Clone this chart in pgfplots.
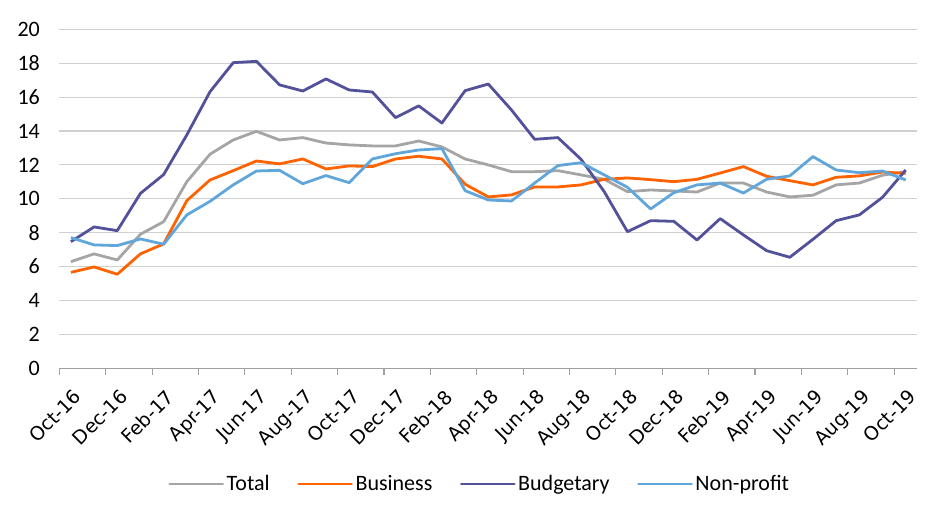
\documentclass[border=0pt]{standalone}
\usepackage{pgfplots}
\pgfplotsset{compat=1.18}
\usepackage{pgfplotstable}
\usepackage{fontspec}
\setmainfont{Carlito}
\newfontfamily\dejavu{DejaVu Sans}
\definecolor{cTotal}{HTML}{A5A5A5}
\definecolor{cBus}{HTML}{FF6200}
\definecolor{cBud}{HTML}{525199}
\definecolor{cNon}{HTML}{60A6DA}
\definecolor{cGrid}{HTML}{D0D0D0}
\definecolor{cAxis}{HTML}{A0A0A0}
\pgfplotstableread{
i Total Business Budgetary Nonprofit
0 6.29 5.66 7.47 7.71
1 6.75 5.98 8.34 7.28
2 6.39 5.55 8.12 7.24
3 7.91 6.75 10.32 7.63
4 8.65 7.34 11.43 7.32
5 11.01 9.89 13.77 9.05
6 12.63 11.11 16.32 9.85
7 13.47 11.66 18.03 10.82
8 13.98 12.23 18.11 11.64
9 13.47 12.06 16.72 11.68
10 13.61 12.35 16.36 10.89
11 13.29 11.76 17.07 11.37
12 13.18 11.94 16.42 10.95
13 13.12 11.90 16.30 12.35
14 13.12 12.35 14.79 12.66
15 13.41 12.51 15.48 12.88
16 13.06 12.35 14.47 12.96
17 12.35 10.86 16.38 10.48
18 12.00 10.11 16.77 9.93
19 11.60 10.23 15.24 9.87
20 11.60 10.70 13.51 10.93
21 11.66 10.70 13.61 11.96
22 11.41 10.82 12.33 12.13
23 11.15 11.15 10.42 11.41
24 10.42 11.23 8.06 10.68
25 10.52 11.13 8.71 9.40
26 10.46 11.01 8.67 10.36
27 10.40 11.15 7.57 10.82
28 10.93 11.52 8.83 10.93
29 10.93 11.90 7.87 10.34
30 10.40 11.33 6.94 11.15
31 10.11 11.07 6.55 11.35
32 10.21 10.82 7.61 12.49
33 10.82 11.27 8.71 11.70
34 10.93 11.35 9.05 11.54
35 11.39 11.58 10.09 11.64
36 11.60 11.50 11.70 11.11
}\data
\begin{document}
\begin{tikzpicture}
\useasboundingbox (0,0) rectangle (952pt,521pt);
\begin{axis}[
  at={(59.3pt,152.7pt)}, anchor=south west,
  scale only axis, width=858pt, height=339pt,
  xmin=-0.5, xmax=36.5, ymin=0, ymax=20,
  axis x line*=bottom, axis y line*=left,
  y axis line style={draw=none},
  x axis line style={draw=cAxis, line width=1.2pt},
  xtick={0,2,...,36},
  xticklabels={Oct-16,Dec-16,Feb-17,Apr-17,Jun-17,Aug-17,Oct-17,Dec-17,Feb-18,Apr-18,Jun-18,Aug-18,Oct-18,Dec-18,Feb-19,Apr-19,Jun-19,Aug-19,Oct-19},
  major x tick style={draw=none},
  minor xtick={-0.5,1.5,...,35.5},
  minor x tick style={draw=cAxis, line width=1.1pt},
  minor tick length=6.7pt,
  tick align=outside,
  ytick={0,2,...,20},
  ytick style={draw=none},
  ymajorgrids,
  grid style={draw=cGrid, line width=1.1pt},
  /pgf/number format/assume math mode=true,
  yticklabel style={font=\fontsize{22}{22}\selectfont, inner sep=0pt, anchor=east, xshift=-15pt},
  xticklabel style={font=\fontsize{19}{19}\dejavu, rotate=45, anchor=north east, inner sep=1pt, xshift=-9pt, yshift=-11pt},
  legend columns=4,
  legend style={at={(rel axis cs:0.4903,-0.3413)}, anchor=center, draw=none, fill=none,
    font=\fontsize{22}{22}\selectfont, inner sep=0pt,
    nodes={inner sep=2.5pt},
    /tikz/every even column/.append style={column sep=25pt}},
  legend image code/.code={\draw[#1, line cap=round] (0pt,0pt) -- (53pt,0pt);},
  every axis plot/.append style={line width=2.8pt, line join=round, no markers},
]
\addplot[cTotal] table[x=i, y=Total] {\data};
\addlegendentry{Total}
\addplot[cBus] table[x=i, y=Business] {\data};
\addlegendentry{Business}
\addplot[cBud] table[x=i, y=Budgetary] {\data};
\addlegendentry{Budgetary}
\addplot[cNon] table[x=i, y=Nonprofit] {\data};
\addlegendentry{Non-profit}
\end{axis}
\end{tikzpicture}
\end{document}
